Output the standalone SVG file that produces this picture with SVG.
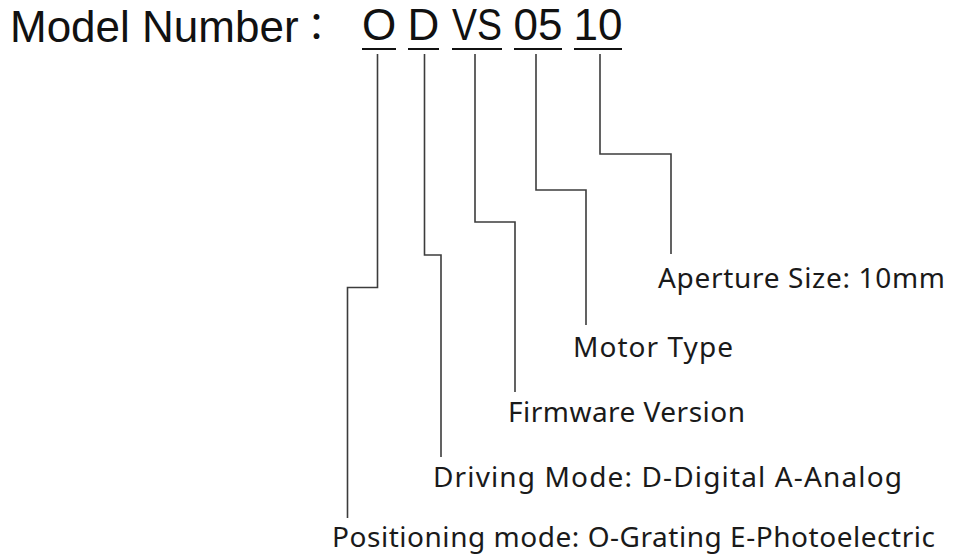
<svg xmlns="http://www.w3.org/2000/svg" width="960" height="560" viewBox="0 0 960 560">
<style>
.title{font-family:"Liberation Sans",Arial,sans-serif;font-size:44px;fill:#111}
.code{font-family:"Liberation Sans",Arial,sans-serif;font-size:44px;fill:#111;text-anchor:middle}
.colon{font-family:"Noto Sans CJK SC",sans-serif;font-size:38px;fill:#111;text-anchor:middle}
.label{font-family:"Noto Sans","Open Sans",sans-serif;font-size:28px;fill:#1a1a1a}
.ul{stroke:#111;stroke-width:2}
.conn{fill:none;stroke:#3c3c3c;stroke-width:1.6}
</style>
<rect width="960" height="560" fill="#ffffff"/>
<g id="title">
<text class="title" x="10" y="42">Model Number</text>
<text class="colon" x="326" y="38">：</text>
</g>
<g id="code">
<text class="code" x="379" y="40">O</text>
<text class="code" x="423.5" y="40">D</text>
<text class="code" x="477" y="40" textLength="50" lengthAdjust="spacingAndGlyphs">VS</text>
<text class="code" x="538" y="40">05</text>
<text class="code" x="598" y="40">10</text>
<line class="ul" x1="362" y1="49" x2="396" y2="49"/>
<line class="ul" x1="408" y1="49" x2="439" y2="49"/>
<line class="ul" x1="452" y1="49" x2="502" y2="49"/>
<line class="ul" x1="514" y1="49" x2="562" y2="49"/>
<line class="ul" x1="574" y1="49" x2="622" y2="49"/>
</g>
<g id="connectors">
<path class="conn" d="M377.5,54 V287.5 H347.5 V518"/>
<path class="conn" d="M424.5,54 V255 H441 V457"/>
<path class="conn" d="M475,54 V222 H515 V392"/>
<path class="conn" d="M536,54 V190 H586 V325"/>
<path class="conn" d="M600,54 V154 H671 V254"/>
</g>
<g id="aperture"><text class="label" x="658" y="288" textLength="287">Aperture Size: 10mm</text></g>
<g id="motor"><text class="label" x="573" y="357" textLength="160">Motor Type</text></g>
<g id="firmware"><text class="label" x="508" y="422" textLength="237">Firmware Version</text></g>
<g id="driving"><text class="label" x="433" y="487" textLength="469">Driving Mode: D-Digital A-Analog</text></g>
<g id="positioning"><text class="label" x="332" y="547" textLength="603">Positioning mode: O-Grating E-Photoelectric</text></g>
</svg>
